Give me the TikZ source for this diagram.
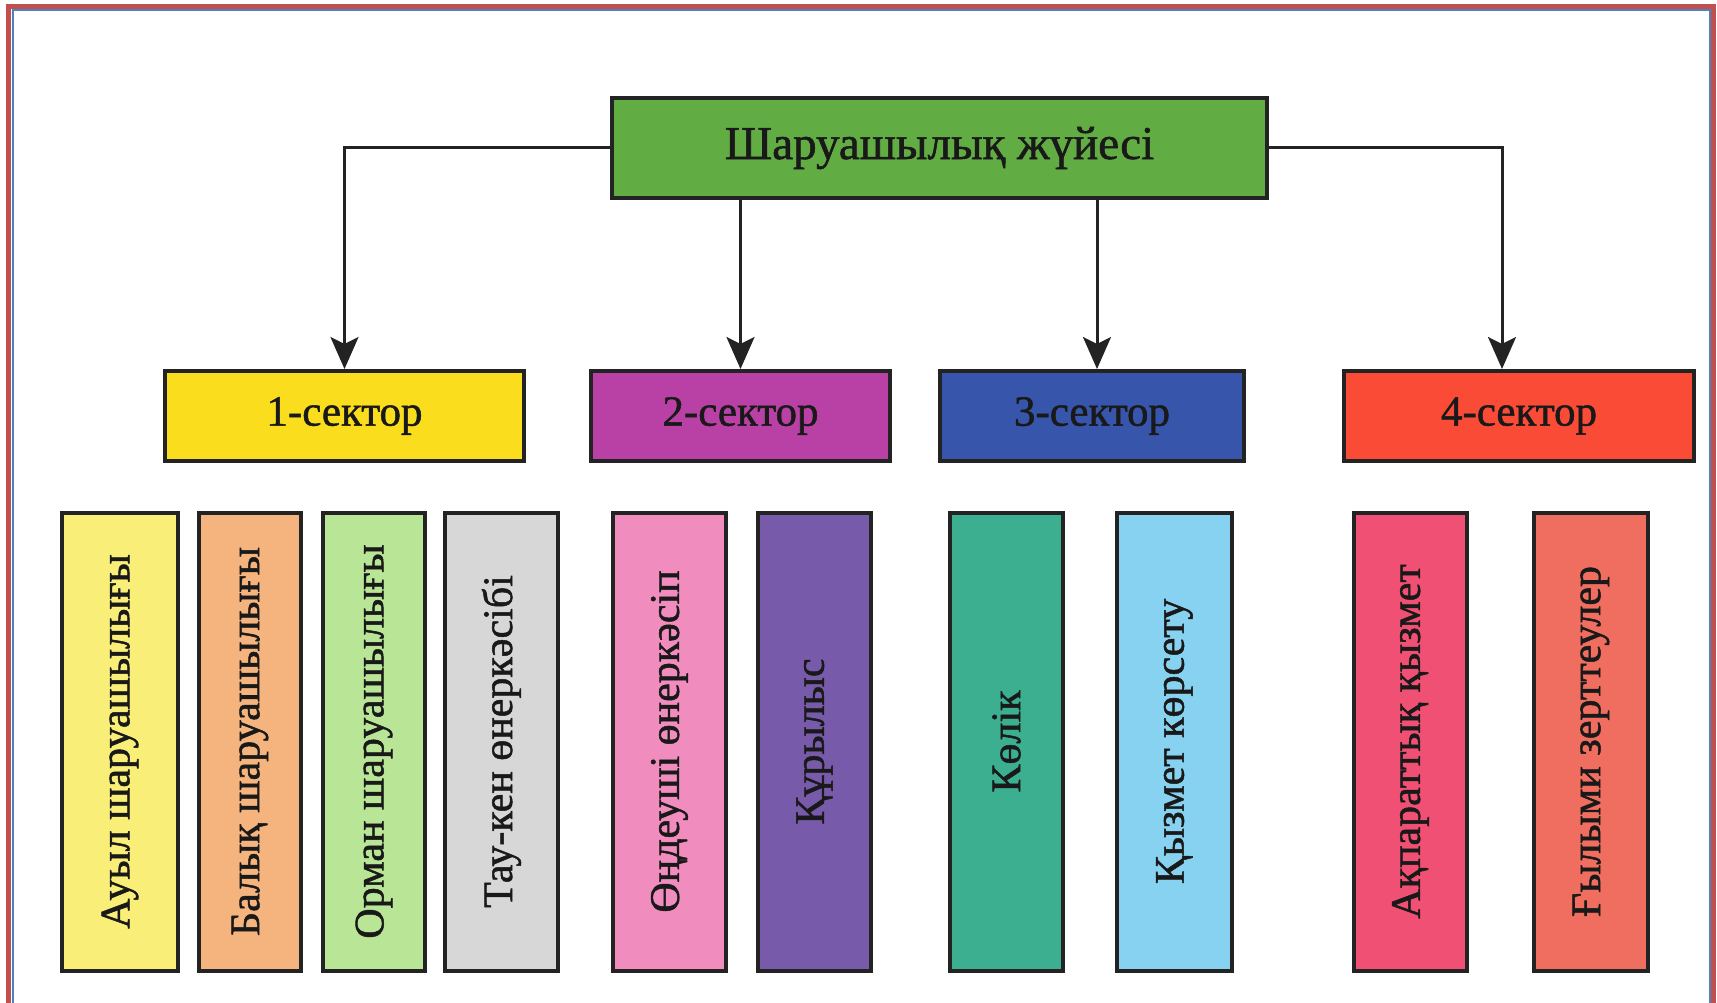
\documentclass[tikz,border=0pt]{standalone}
\usepackage{fontspec}
\setmainfont{Liberation Serif}[FakeBold=1.2]
\usetikzlibrary{arrows.meta}

\definecolor{framered}{RGB}{192,80,77}
\definecolor{frameblue}{RGB}{79,129,189}
\definecolor{boxline}{RGB}{35,35,35}
\definecolor{topgreen}{RGB}{98,172,68}
\definecolor{secone}{RGB}{250,222,30}
\definecolor{sectwo}{RGB}{185,65,165}
\definecolor{secthree}{RGB}{55,85,170}
\definecolor{secfour}{RGB}{250,75,55}

\begin{document}
\begin{tikzpicture}[x=1pt,y=-1pt,
    box/.style={draw=boxline, line width=4pt, inner sep=0pt, text={rgb,255:red,25;green,25;blue,25}},
    sector/.style={box, minimum height=90pt, font=\fontsize{43}{46}\selectfont},
    branch/.style={box, rotate=90, minimum width=458pt, font=\fontsize{42}{45}\selectfont},
    link/.style={draw=boxline, line width=3pt, -{Stealth[length=32pt,width=28pt,inset=7pt]}}]
    \useasboundingbox (0,0) rectangle (1717,1003);

    % Frame
    \draw[framered, line width=5.5pt] (8.5,1003) -- (8.5,6.5) -- (1713.5,6.5) -- (1713.5,1003);
    \draw[frameblue, line width=2pt] (12.5,1003) -- (12.5,10.5) -- (1709.5,10.5) -- (1709.5,1003);

    % Top box
    \node[box, fill=topgreen, minimum width=655pt, minimum height=100pt, font=\fontsize{47}{50}\selectfont] (economy) at (939.5,148) {Шаруашылық жүйесі};

    % Sectors
    \node[sector, fill=secone, minimum width=359pt] (sector1) at (344.5,416) {1-сектор};
    \node[sector, fill=sectwo, minimum width=299pt] (sector2) at (740.5,416) {2-сектор};
    \node[sector, fill=secthree, minimum width=304pt] (sector3) at (1092,416) {3-сектор};
    \node[sector, fill=secfour, minimum width=350pt] (sector4) at (1519,416) {4-сектор};

    % Arrows from top box
    \draw[link] (economy.west) -| (sector1.north);
    \draw[link] (sector2.north |- economy.south) -- (sector2.north);
    \draw[link] ([xshift=5pt]sector3.north |- economy.south) -- ([xshift=5pt]sector3.north);
    \draw[link] (economy.east) -| ([xshift=-17pt]sector4.north);

    % Branches
    \node[branch, fill={rgb,255:red,248;green,238;blue,120}, minimum height=116pt] (farming) at (120,741.5) {Ауыл шаруашылығы};
    \node[branch, fill={rgb,255:red,245;green,180;blue,125}, minimum height=102pt] (fishing) at (250,741.5) {Балық шаруашылығы};
    \node[branch, fill={rgb,255:red,185;green,230;blue,150}, minimum height=102pt] (forestry) at (374,741.5) {Орман шаруашылығы};
    \node[branch, fill={rgb,255:red,215;green,215;blue,215}, minimum height=113pt] (mining) at (501.5,741.5) {Тау-кен өнеркәсібі};
    \node[branch, fill={rgb,255:red,240;green,140;blue,190}, minimum height=113pt] (processing) at (669.5,741.5) {Өңдеуші өнеркәсіп};
    \node[branch, fill={rgb,255:red,120;green,90;blue,170}, minimum height=113pt] (building) at (814.5,741.5) {Құрылыс};
    \node[branch, fill={rgb,255:red,60;green,175;blue,145}, minimum height=113pt] (transport) at (1006.5,741.5) {Көлік};
    \node[branch, fill={rgb,255:red,135;green,210;blue,240}, minimum height=115pt] (service) at (1174.5,741.5) {Қызмет көрсету};
    \node[branch, fill={rgb,255:red,240;green,80;blue,115}, minimum height=113pt] (information) at (1410.5,741.5) {Ақпараттық қызмет};
    \node[branch, fill={rgb,255:red,240;green,110;blue,95}, minimum height=114pt] (research) at (1591,741.5) {Ғылыми зерттеулер};

\end{tikzpicture}
\end{document}
